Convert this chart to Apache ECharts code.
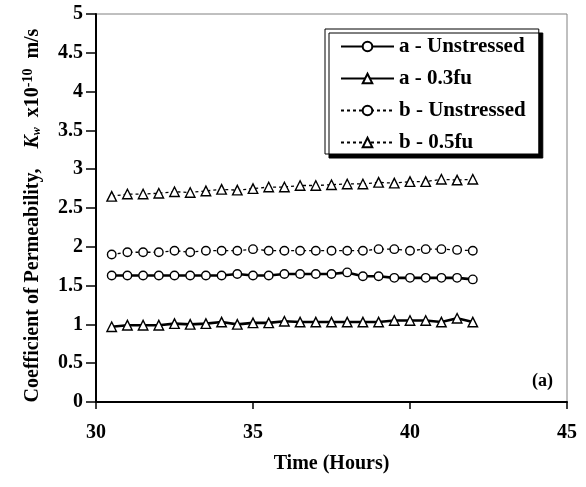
<!DOCTYPE html>
<html><head><meta charset="utf-8">
<script src="https://cdn.jsdelivr.net/npm/echarts@6/dist/echarts.min.js"></script>
<style>html,body{margin:0;padding:0;background:#fff}#c{width:586px;height:487px}</style>
</head><body><div id="c"></div>
<script>
const hours = [30.5,31,31.5,32,32.5,33,33.5,34,34.5,35,35.5,36,36.5,37,37.5,38,38.5,39,39.5,40,40.5,41,41.5,42];
const aUnstressed = [1.63,1.63,1.63,1.63,1.63,1.63,1.63,1.63,1.65,1.63,1.63,1.65,1.65,1.65,1.65,1.67,1.62,1.62,1.60,1.60,1.60,1.60,1.60,1.58];
const a03fu = [0.97,0.99,0.99,0.99,1.01,1.00,1.01,1.03,1.00,1.02,1.02,1.04,1.03,1.03,1.03,1.03,1.03,1.03,1.05,1.05,1.05,1.03,1.08,1.03];
const bUnstressed = [1.90,1.93,1.93,1.93,1.95,1.93,1.95,1.95,1.95,1.97,1.95,1.95,1.95,1.95,1.95,1.95,1.95,1.97,1.97,1.95,1.97,1.97,1.96,1.95];
const b05fu = [2.65,2.68,2.68,2.69,2.71,2.70,2.72,2.74,2.73,2.75,2.77,2.77,2.79,2.79,2.80,2.81,2.81,2.83,2.82,2.84,2.84,2.87,2.86,2.87];
const seriesNames = ['a - Unstressed','a - 0.3fu','b - Unstressed','b - 0.5fu'];

const FONT = '"Liberation Serif","Times New Roman",serif';
const chart = echarts.init(document.getElementById('c'), null, {renderer:'canvas'});
function mk(name, vals, symbol, dashed){
  return {
    name, type:'line', data: hours.map((h,i)=>[h, vals[i]]),
    symbol, symbolSize: symbol==='circle'?8.5:9.5, showSymbol:true,
    lineStyle:{color:'#000', width: dashed?1.3:2.6, type: dashed?[3,3]:'solid'},
    itemStyle:{color:'#fff', borderColor:'#000', borderWidth:1.4},
    z: 3
  };
}
chart.setOption({
  animation:false,
  backgroundColor:'#fff',
  grid:{left:96, right:19, top:14, bottom:85, show:true, borderColor:'#808080', borderWidth:1},
  title:{text:'(a)', left:527, top:367, textStyle:{fontFamily:FONT, fontWeight:'bold', fontSize:18, color:'#000'}},
  legend:{
    orient:'vertical', left:325, top:29,
    padding:[7,13,1,15], itemGap:11, itemWidth:53, itemHeight:12,
    backgroundColor:'#fff', borderColor:'#000', borderWidth:1,
    shadowColor:'#000', shadowBlur:0, shadowOffsetX:4, shadowOffsetY:4,
    textStyle:{fontFamily:FONT, fontWeight:'bold', fontSize:21, color:'#000'},
    data: seriesNames
  },
  xAxis:{
    type:'value', min:30, max:45, interval:5,
    name:'Time (Hours)', nameLocation:'middle', nameGap:52,
    nameTextStyle:{fontFamily:FONT, fontWeight:'bold', fontSize:20, color:'#000'},
    axisLine:{lineStyle:{color:'#000', width:2}},
    axisTick:{show:true, length:7, lineStyle:{color:'#000', width:1.5}},
    axisLabel:{fontFamily:FONT, fontWeight:'bold', fontSize:20, color:'#000', margin:21},
    splitLine:{show:false}
  },
  yAxis:{
    type:'value', min:0, max:5, interval:0.5,
    name:'{a|Coefficient of Permeability,    }{k|K}{s|w}{a|  x10}{p|-10}{a|  m/s   }',
    nameLocation:'middle', nameGap:51, nameRotate:90,
    nameTextStyle:{
      fontFamily:FONT, fontWeight:'bold', fontSize:20, color:'#000',
      rich:{
        a:{fontFamily:FONT, fontWeight:'bold', fontSize:20, color:'#000', lineHeight:24, verticalAlign:'middle'},
        k:{fontFamily:FONT, fontWeight:'bold', fontStyle:'italic', fontSize:20, color:'#000', lineHeight:24, verticalAlign:'middle'},
        s:{fontFamily:FONT, fontWeight:'bold', fontStyle:'italic', fontSize:12, color:'#000', lineHeight:24, verticalAlign:'bottom', padding:[0,0,2,0]},
        p:{fontFamily:FONT, fontWeight:'bold', fontSize:14, color:'#000', lineHeight:24, verticalAlign:'top'}
      }
    },
    axisLine:{lineStyle:{color:'#000', width:2}},
    axisTick:{show:true, length:10, lineStyle:{color:'#000', width:1.5}},
    axisLabel:{fontFamily:FONT, fontWeight:'bold', fontSize:20, color:'#000', margin:13},
    splitLine:{show:false}
  },
  series:[
    mk(seriesNames[0], aUnstressed, 'circle', false),
    mk(seriesNames[1], a03fu, 'triangle', false),
    mk(seriesNames[2], bUnstressed, 'circle', true),
    mk(seriesNames[3], b05fu, 'triangle', true)
  ]
});
</script></body></html>
